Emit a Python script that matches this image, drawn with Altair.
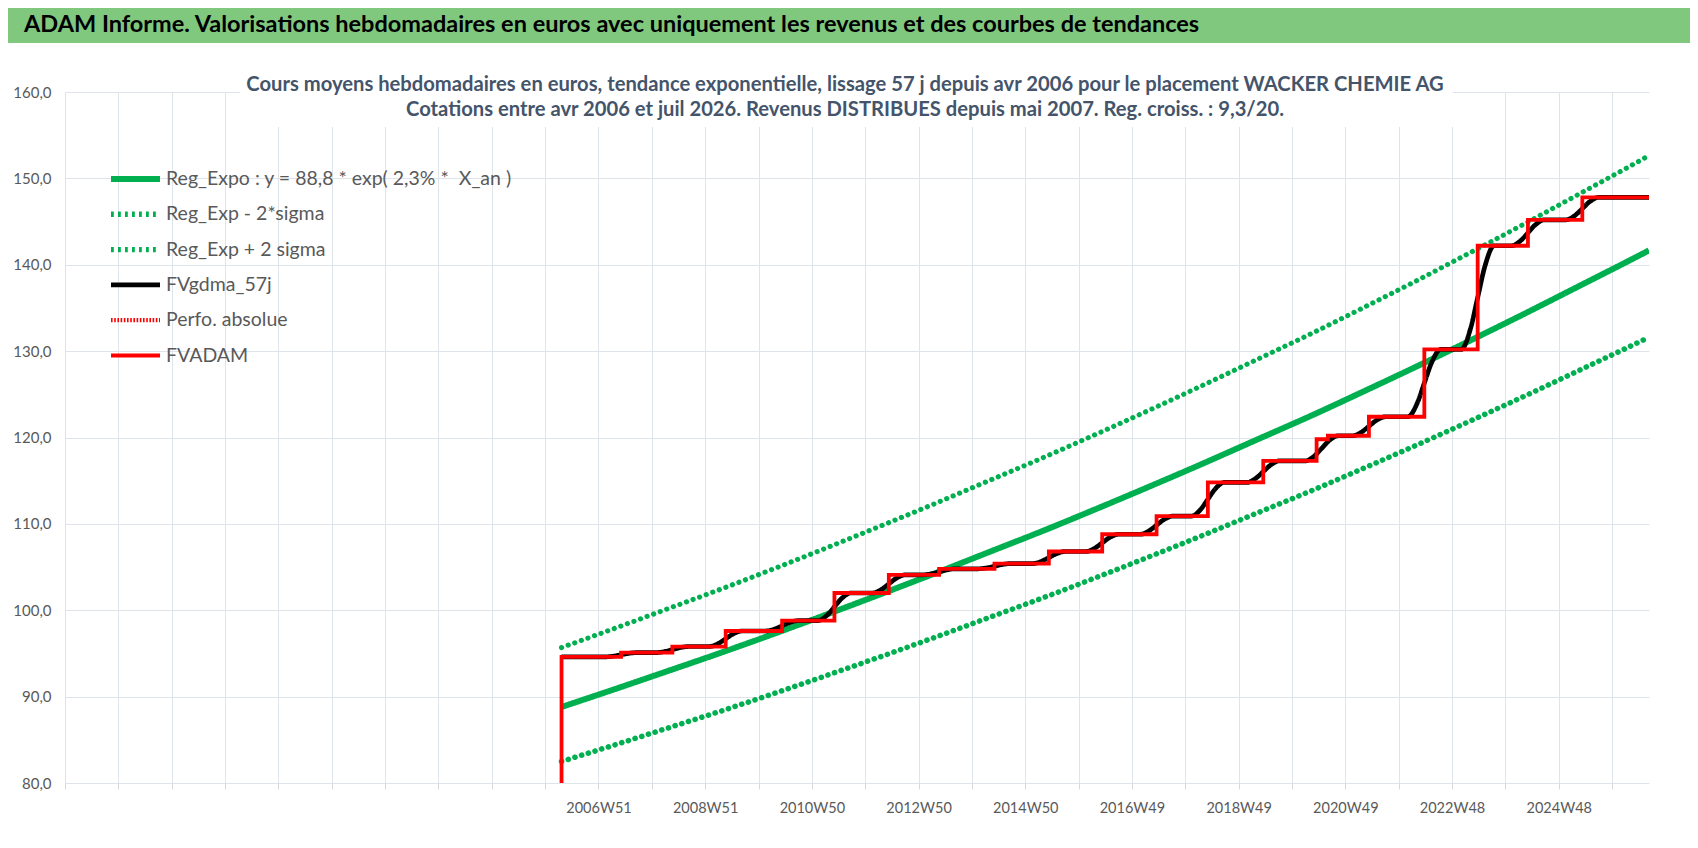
import json
import altair as alt
import pandas as pd

# ---------------- texts ----------------
header_text = ("ADAM Informe. Valorisations hebdomadaires en euros avec uniquement "
               "les revenus et des courbes de tendances")
subtitle = [
    "Cours moyens hebdomadaires en euros, tendance exponentielle, lissage 57 j depuis avr 2006 pour le placement WACKER CHEMIE AG",
    "Cotations entre avr 2006 et juil 2026. Revenus DISTRIBUES depuis mai 2007.  Reg. croiss. : 9,3/20.",
]

# ---------------- axis labels ----------------
# x = week number counted from the category 2006W51 (one label every 104 weeks)
x_tick_labels = ["2006W51", "2008W51", "2010W50", "2012W50", "2014W50",
                 "2016W49", "2018W49", "2020W49", "2022W48", "2024W48"]
y_ticks = [80, 90, 100, 110, 120, 130, 140, 150, 160]

series_names = ["Reg_Expo : y = 88,8 * exp( 2,3% *\u00a0 X_an )", "Reg_Exp - 2*sigma",
                "Reg_Exp + 2 sigma", "FVgdma_57j", "Perfo. absolue", "FVADAM"]

# ---------------- series values ----------------
trend_weeks = [-36, 16, 68, 121, 173, 225, 277, 329, 381, 434, 486, 538, 590,
               642, 695, 747, 799, 851, 903, 955, 1008, 1024]
trend_vals = [88.8, 90.87, 92.98, 95.15, 97.36, 99.63, 101.95, 104.32, 106.75,
              109.23, 111.77, 114.37, 117.03, 119.76, 122.54, 125.40, 128.31,
              131.30, 134.35, 137.48, 140.68, 141.66]
upper_vals = [95.68, 97.91, 100.19, 102.52, 104.90, 107.35, 109.85, 112.40, 115.02,
              117.70, 120.43, 123.23, 126.10, 129.04, 132.04, 135.12, 138.25,
              141.48, 144.76, 148.13, 151.58, 152.64]
lower_vals = [82.50, 84.42, 86.38, 88.39, 90.45, 92.56, 94.71, 96.91, 99.17,
              101.47, 103.83, 106.25, 108.72, 111.26, 113.84, 116.50, 119.20,
              121.98, 124.81, 127.72, 130.69, 131.60]

fvadam_weeks = [-36, -36, 22, 72, 124, 179, 230, 283, 332, 386, 439, 491, 544,
                594, 648, 700, 711, 751, 805, 857, 906, 959, 1024]
fvadam_vals = [80.0, 94.6, 95.1, 95.8, 97.6, 98.8, 102.0, 104.1, 104.8, 105.4,
               106.8, 108.8, 110.9, 114.8, 117.3, 119.8, 120.2, 122.4, 130.2,
               142.2, 145.2, 147.8, 147.8]

fvgdma_weeks = [-36,
                6, 15, 22, 29, 38, 56, 65, 72, 79, 88, 108, 117, 124, 131, 140,
                163, 172, 179, 186, 195, 214, 223, 230, 237, 246, 267, 276, 283, 290, 299,
                316, 325, 332, 339, 348, 370, 379, 386, 393, 402, 423, 432, 439, 446, 455,
                475, 484, 491, 498, 507, 528, 537, 544, 551, 560, 578, 587, 594, 601, 610,
                632, 641, 648, 655, 664, 689, 698, 705, 712, 721, 735, 744, 751, 758, 767,
                789, 798, 805, 812, 821, 841, 850, 857, 864, 873, 890, 899, 906, 913, 922,
                943, 952, 959, 966, 975,
                1024]
fvgdma_vals = [94.6,
               94.6, 94.7, 94.85, 95.0, 95.1, 95.1, 95.24, 95.45, 95.66, 95.8,
               95.8, 96.16, 96.7, 97.24, 97.6, 97.6, 97.84, 98.2, 98.56, 98.8,
               98.8, 99.44, 100.4, 101.36, 102.0, 102.0, 102.42, 103.05, 103.68, 104.1,
               104.1, 104.24, 104.45, 104.66, 104.8, 104.8, 104.92, 105.1, 105.28, 105.4,
               105.4, 105.68, 106.1, 106.52, 106.8, 106.8, 107.2, 107.8, 108.4, 108.8,
               108.8, 109.22, 109.85, 110.48, 110.9, 110.9, 111.68, 112.85, 114.02, 114.8,
               114.8, 115.3, 116.05, 116.8, 117.3, 117.3, 117.88, 118.75, 119.62, 120.2,
               120.2, 120.64, 121.3, 121.96, 122.4, 122.4, 123.96, 126.3, 128.64, 130.2,
               130.2, 132.6, 136.2, 139.8, 142.2, 142.2, 142.8, 143.7, 144.6, 145.2,
               145.2, 145.72, 146.5, 147.28, 147.8,
               147.8]

# ---------------- styles ----------------
colors = ["#00B050", "#00B050", "#00B050", "#000000", "#FF0000", "#FF0000"]
legend_dashes = [[1, 0], [2.8, 4.2], [2.8, 4.2], [1, 0], [1.6, 1.6], [1, 0]]
widths = [6, 3.8, 3.8, 3.5, 1.8, 5]
dotted_dash = [0.1, 6.9]   # round dots drawn in the plot

FONT = "Lato"
GRID = "#DFE3EA"
TXT = "#595959"


def frame(name, weeks, vals):
    return pd.DataFrame({"semaine": weeks, "valeur": vals, "serie": name})


trend_df = frame(series_names[0], trend_weeks, trend_vals)
lower_df = frame(series_names[1], trend_weeks, lower_vals)
upper_df = frame(series_names[2], trend_weeks, upper_vals)
black_df = frame(series_names[3], fvgdma_weeks, fvgdma_vals)
red_df = frame(series_names[5], fvadam_weeks, fvadam_vals)

legend = alt.Legend(
    title=None, orient="none", legendX=43, legendY=161, symbolType="stroke",
    symbolSize=2401, clipHeight=20, rowPadding=15.3, padding=0,
    labelFont=FONT, labelFontSize=19.5, labelColor=TXT, labelOffset=3,
    labelLimit=600,
)

label_js = json.dumps(x_tick_labels)
x_enc = alt.X(
    "semaine:Q",
    scale=alt.Scale(domain=[-520, 1024], nice=False, zero=False),
    axis=alt.Axis(
        title=None, values=list(range(-520, 989, 52)),
        labelExpr=f"datum.value >= 0 && datum.value % 104 == 0 ? {label_js}[datum.value / 104] : ''",
        grid=True, gridColor=GRID, gridWidth=1, domain=False,
        ticks=True, tickColor="#D9D9D9", tickSize=6,
        labelFont=FONT, labelFontSize=14.5, labelColor=TXT, labelPadding=12,
        labelFlush=False, labelOverlap=False,
    ),
)
y_enc = alt.Y(
    "valeur:Q",
    scale=alt.Scale(domain=[80, 160], nice=False, zero=False),
    axis=alt.Axis(
        title=None, values=y_ticks,
        labelExpr="replace(format(datum.value, '.1f'), '.', ',')",
        grid=True, gridColor=GRID, gridWidth=1, domain=False, ticks=False,
        labelFont=FONT, labelFontSize=15, labelColor=TXT, labelPadding=14,
        minExtent=57,
    ),
)
col_enc = alt.Color("serie:N", scale=alt.Scale(domain=series_names, range=colors), legend=legend)
dash_enc = alt.StrokeDash("serie:N", scale=alt.Scale(domain=series_names, range=legend_dashes), legend=legend)
wid_enc = alt.StrokeWidth("serie:N", scale=alt.Scale(domain=series_names, range=widths), legend=legend)


def solid_layer(df, interp):
    return alt.Chart(df).mark_line(interpolate=interp, clip=True).encode(
        x=x_enc, y=y_enc, color=col_enc, strokeDash=dash_enc, strokeWidth=wid_enc
    )


def dotted_layer(df):
    return alt.Chart(df).mark_line(
        interpolate="monotone", clip=True, strokeCap="round", strokeDash=dotted_dash
    ).encode(x=x_enc, y=y_enc, color=col_enc, strokeWidth=wid_enc)


# white background behind the sub-title (as in the spreadsheet chart)
title_box = alt.Chart(pd.DataFrame({"a": [0]})).mark_rect(fill="white").encode(
    x=alt.value(175), x2=alt.value(1388), y=alt.value(0), y2=alt.value(35)
)

main = alt.layer(
    title_box,
    dotted_layer(upper_df),
    dotted_layer(lower_df),
    solid_layer(trend_df, "monotone"),
    solid_layer(black_df, "monotone"),
    solid_layer(red_df, "step-after"),
).properties(
    width=1584, height=691,
    title=alt.TitleParams(
        text=subtitle, font=FONT, fontSize=20.2, fontWeight="bold", color="#44546A",
        anchor="middle", offset=-35, lineHeight=25, dx=-12,
    ),
)

# green heading band spanning the whole chart width
band = alt.Chart(pd.DataFrame({"t": [header_text]})).mark_rect(fill="#80C87E").encode(
    x=alt.value(-57), x2=alt.value(1625), y=alt.value(0), y2=alt.value(35)
)
head_text = alt.Chart(pd.DataFrame({"t": [header_text]})).mark_text(
    align="left", baseline="middle", font=FONT, fontSize=23.5, fontWeight="bold", color="#000000"
).encode(
    x=alt.value(-41), y=alt.value(17), text="t:N"
)
header = alt.layer(band, head_text).properties(width=1625, height=35)

chart = alt.vconcat(header, main, spacing=31).properties(padding=0).configure_view(strokeWidth=0)

chart.save("out.html", embed_options={"renderer": "svg", "actions": False})
